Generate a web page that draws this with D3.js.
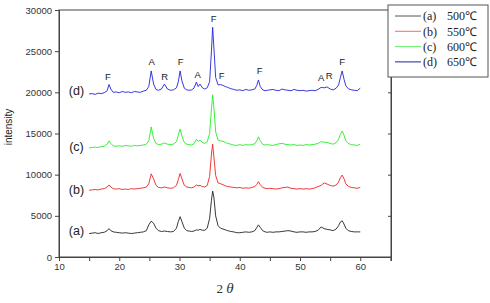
<!DOCTYPE html>
<html>
<head>
<meta charset="utf-8">
<script src="https://cdn.jsdelivr.net/npm/d3@7"></script>
<style>
    body { margin: 0; background: #fff; }
    svg { display: block; }
    .tick text { font-family: "Liberation Sans", Arial, sans-serif; font-size: 9.5px; fill: #333; }
</style>
</head>
<body>
<svg id="xrd"></svg>
<script>
// 2 theta positions shared by all four patterns
var angles = [
    15, 15.5, 16, 16.5, 17, 17.5, 18, 18.3, 18.6, 19,
    19.5, 20, 20.5, 21, 21.5, 22, 22.5, 23, 23.5, 24,
    24.5, 24.9, 25.3, 25.7, 26.1, 26.5, 27, 27.5, 28, 28.5,
    29, 29.5, 29.8, 30.1, 30.4, 30.8, 31.2, 31.6, 32, 32.4,
    32.8, 33.1, 33.4, 33.8, 34.2, 34.6, 35, 35.3, 35.5, 35.7,
    36, 36.4, 36.8, 37.2, 37.6, 38, 38.5, 39, 39.5, 40,
    40.5, 41, 41.5, 42, 42.5, 42.8, 43.1, 43.4, 43.8, 44.2,
    44.6, 45, 45.5, 46, 46.5, 47, 47.5, 48, 48.5, 49,
    49.5, 50, 50.5, 51, 51.5, 52, 52.5, 53, 53.5, 54,
    54.5, 55, 55.5, 56, 56.4, 56.7, 57, 57.3, 57.6, 58,
    58.5, 59, 59.5, 60
];

// (a) 500C
var intensityA = [
    2850, 2900, 2950, 2850, 2950, 3000, 3200, 3450, 3200, 3050,
    3000, 2950, 2900, 2950, 2900, 2850, 2900, 2950, 3000, 3050,
    3200, 3900, 4350, 4100, 3500, 3200, 3100, 3150, 3100, 3050,
    3100, 3500, 4300, 4900, 4300, 3500, 3200, 3150, 3100, 3150,
    3300, 3250, 3350, 3250, 3250, 3500, 4700, 6900, 8000, 7300,
    5000, 3800, 3500, 3400, 3300, 3200, 3100, 3050, 2950, 2950,
    3000, 3050, 3000, 3050, 3200, 3550, 3900, 3600, 3200, 3050,
    3000, 3050, 3000, 3050, 3050, 3100, 3150, 3200, 3150, 3050,
    3000, 3050, 3050, 3000, 3050, 3050, 3100, 3250, 3650, 3450,
    3350, 3300, 3200, 3400, 3800, 4250, 4400, 4000, 3500, 3200,
    3100, 3050, 3050, 3050
];

// (b) 550C
var intensityB = [
    8100, 8150, 8200, 8150, 8250, 8300, 8500, 8750, 8500, 8300,
    8250, 8300, 8200, 8250, 8200, 8300, 8250, 8300, 8350, 8400,
    8500, 8900, 10100, 9500, 8700, 8450, 8400, 8500, 8400, 8350,
    8400, 8700, 9400, 10150, 9500, 8700, 8500, 8450, 8400, 8500,
    8750, 8650, 8700, 8550, 8500, 8700, 9800, 12500, 13700, 12200,
    9900, 9000, 8900, 8800, 8650, 8550, 8500, 8450, 8400, 8450,
    8350, 8400, 8350, 8450, 8550, 8800, 9150, 8800, 8450, 8350,
    8300, 8350, 8300, 8250, 8300, 8400, 8450, 8500, 8350, 8300,
    8250, 8300, 8250, 8300, 8250, 8300, 8400, 8550, 8700, 9000,
    8850, 8700, 8600, 8750, 9100, 9650, 9950, 9500, 8900, 8600,
    8450, 8400, 8350, 8450
];

// (c) 600C
var intensityC = [
    13250, 13300, 13350, 13300, 13400, 13450, 13700, 14100, 13800, 13500,
    13450, 13500, 13450, 13550, 13500, 13450, 13550, 13500, 13550, 13600,
    13700, 14100, 15800, 14400, 13800, 13650, 13700, 13850, 13700, 13650,
    13700, 14000, 14800, 15550, 14700, 13900, 13700, 13650, 13600, 13750,
    14300, 14050, 14200, 13900, 13800, 14000, 15000, 18000, 19700, 18200,
    15200, 14200, 14100, 14050, 13900, 13800, 13700, 13600, 13550, 13650,
    13550, 13650, 13600, 13650, 13750, 14100, 14600, 14100, 13700, 13600,
    13650, 13600, 13550, 13650, 13750, 13800, 13700, 13650, 13600, 13650,
    13550, 13600, 13550, 13650, 13600, 13650, 13700, 13800, 14000, 13950,
    13900, 13800, 13700, 13900, 14300, 14900, 15300, 14800, 14100, 13800,
    13650, 13600, 13550, 13700
];

// (d) 650C
var intensityD = [
    19800, 19850, 19750, 19900, 19850, 19950, 20200, 20950, 20400, 20000,
    20050, 19950, 20100, 20000, 20050, 19950, 20100, 20050, 20000, 20150,
    20250, 20700, 22600, 21000, 20350, 20250, 20400, 21000, 20400, 20250,
    20300, 20550, 21300, 22600, 21400, 20500, 20300, 20250, 20300, 20500,
    21250, 20700, 21000, 20550, 20400, 20550, 21300, 25000, 27900, 25500,
    21800, 20900, 20950, 20850, 20700, 20600, 20450, 20350, 20250, 20300,
    20200, 20350, 20250, 20300, 20400, 20800, 21500, 20700, 20300, 20200,
    20250, 20300, 20350, 20250, 20200, 20400, 20300, 20250, 20200, 20350,
    20250, 20200, 20250, 20150, 20200, 20250, 20200, 20350, 20600, 20550,
    20650, 20400, 20300, 20500, 20900, 21800, 22600, 21600, 20800, 20450,
    20300, 20250, 20200, 20500
];

var seriesNames = ['(a)', '(b)', '(c)', '(d)'];
var temperatures = ['500℃', '550℃', '600℃', '650℃'];
var lineColors = ['#222222', '#ee2222', '#22ee22', '#2222dd'];
var legendColors = ['#555555', '#ff6666', '#66ee66', '#222299'];

// where the (a)...(d) tags sit: [2 theta, intensity]
var tagPositions = [[12.9, 3250], [12.9, 8200], [12.9, 13450], [12.9, 20250]];

// phase marks above pattern (d): F ferrite, A anatase, R rutile
var peakLabels = ['F', 'A', 'R', 'F', 'A', 'F', 'F', 'F', 'A', 'R', 'F'];
var peakAngles = [18.1, 25.4, 27.55, 30.2, 33.0, 35.65, 37.0, 43.3, 53.5, 54.85, 57.0];
var peakHeights = [21860, 23680, 21860, 23680, 22100, 28900, 21980, 22590, 21740, 21980, 23680];

var xTicks = [10, 20, 30, 40, 50, 60];
var xMinorTicks = [10, 15, 20, 25, 30, 35, 40, 45, 50, 55, 60, 65];
var yTicks = [0, 5000, 10000, 15000, 20000, 25000, 30000];

var width = 490, height = 303;
var margin = {top: 10, right: 99, bottom: 46, left: 59};
var plotW = width - margin.left - margin.right;
var plotH = height - margin.top - margin.bottom;

var svg = d3.select('#xrd')
    .attr('width', width)
    .attr('height', height);

var x = d3.scaleLinear().domain([10, 65.1]).range([0, plotW]);
var y = d3.scaleLinear().domain([0, 30000]).range([plotH, 0]);

var g = svg.append('g')
    .attr('transform', 'translate(' + margin.left + ',' + margin.top + ')');

// frame
g.append('rect')
    .attr('width', plotW)
    .attr('height', plotH)
    .style('fill', 'none')
    .style('stroke', '#444')
    .style('stroke-width', 1);

// bottom axis: labels every 10, ticks every 5
var xAxis = d3.axisBottom(x).tickValues(xMinorTicks).tickSize(4).tickPadding(2)
    .tickFormat(function(d) { return xTicks.indexOf(d) >= 0 ? d : ''; });
g.append('g')
    .attr('class', 'x-axis')
    .attr('transform', 'translate(0,' + plotH + ')')
    .call(xAxis);

var yAxis = d3.axisLeft(y).tickValues(yTicks).tickSize(4).tickPadding(3)
    .tickFormat(d3.format('d'));
g.append('g')
    .attr('class', 'y-axis')
    .call(yAxis);

// right side ticks, pointing in
g.append('g')
    .attr('class', 'y-axis-right')
    .attr('transform', 'translate(' + plotW + ',0)')
    .call(d3.axisLeft(y).tickValues(yTicks).tickSize(3).tickFormat(''));

g.selectAll('.domain').style('stroke', '#444');
g.selectAll('.tick line').style('stroke', '#444');

// patterns
var line = d3.line()
    .x(function(d) { return x(d[0]); })
    .y(function(d) { return y(d[1]); });

var patterns = [intensityA, intensityB, intensityC, intensityD];
patterns.forEach(function(values, i) {
    var pts = angles.map(function(a, j) { return [a, values[j]]; });
    g.append('path')
        .attr('d', line(pts))
        .style('fill', 'none')
        .style('stroke', lineColors[i])
        .style('stroke-width', 0.9)
        .style('stroke-linejoin', 'round');
});

// (a)..(d) tags
g.selectAll('.tag')
    .data(seriesNames)
    .enter().append('text')
    .attr('class', 'tag')
    .attr('x', function(d, i) { return x(tagPositions[i][0]); })
    .attr('y', function(d, i) { return y(tagPositions[i][1]); })
    .attr('text-anchor', 'middle')
    .attr('dy', '0.35em')
    .style('font-family', '"Liberation Sans", Arial, sans-serif')
    .style('font-size', '12.5px')
    .style('fill', '#222')
    .text(function(d) { return d; });

// phase letters
g.selectAll('.peak')
    .data(peakLabels)
    .enter().append('text')
    .attr('class', 'peak')
    .attr('x', function(d, i) { return x(peakAngles[i]); })
    .attr('y', function(d, i) { return y(peakHeights[i]); })
    .attr('text-anchor', 'middle')
    .attr('dy', '0.35em')
    .style('font-family', '"Liberation Sans", Arial, sans-serif')
    .style('font-size', '9.5px')
    .style('fill', '#222')
    .text(function(d) { return d; });

// axis titles
svg.append('text')
    .attr('transform', 'translate(12,' + (margin.top + 117) + ') rotate(-90)')
    .attr('text-anchor', 'middle')
    .style('font-family', '"Liberation Sans", Arial, sans-serif')
    .style('font-size', '10px')
    .style('fill', '#222')
    .text('intensity');

var xTitle = svg.append('text')
    .attr('x', 225)
    .attr('y', 293)
    .attr('text-anchor', 'middle')
    .style('font-family', '"Liberation Serif", "Times New Roman", serif')
    .style('font-size', '13px')
    .style('fill', '#333');
xTitle.append('tspan').text('2 ');
xTitle.append('tspan').style('font-style', 'italic').style('font-size', '15px').text('θ');

// legend
var legend = svg.append('g').attr('transform', 'translate(388,5)');
legend.append('rect')
    .attr('width', 100)
    .attr('height', 72)
    .style('fill', '#fff')
    .style('stroke', '#555')
    .style('stroke-width', 1);

var rows = legend.selectAll('.legend-row')
    .data(seriesNames)
    .enter().append('g')
    .attr('class', 'legend-row')
    .attr('transform', function(d, i) { return 'translate(0,' + (11 + i * 15.3) + ')'; });

rows.append('line')
    .attr('x1', 7).attr('x2', 33)
    .style('stroke', function(d, i) { return legendColors[i]; })
    .style('stroke-width', 1);

rows.append('text')
    .attr('x', 35)
    .attr('dy', '0.35em')
    .style('font-family', '"Liberation Serif", "Times New Roman", serif')
    .style('font-size', '12px')
    .style('fill', '#222')
    .text(function(d) { return d; });

rows.append('text')
    .attr('x', 59)
    .attr('dy', '0.35em')
    .style('font-family', '"Liberation Serif", "Times New Roman", serif')
    .style('font-size', '12px')
    .style('fill', '#222')
    .text(function(d, i) { return temperatures[i]; });
</script>
</body>
</html>
